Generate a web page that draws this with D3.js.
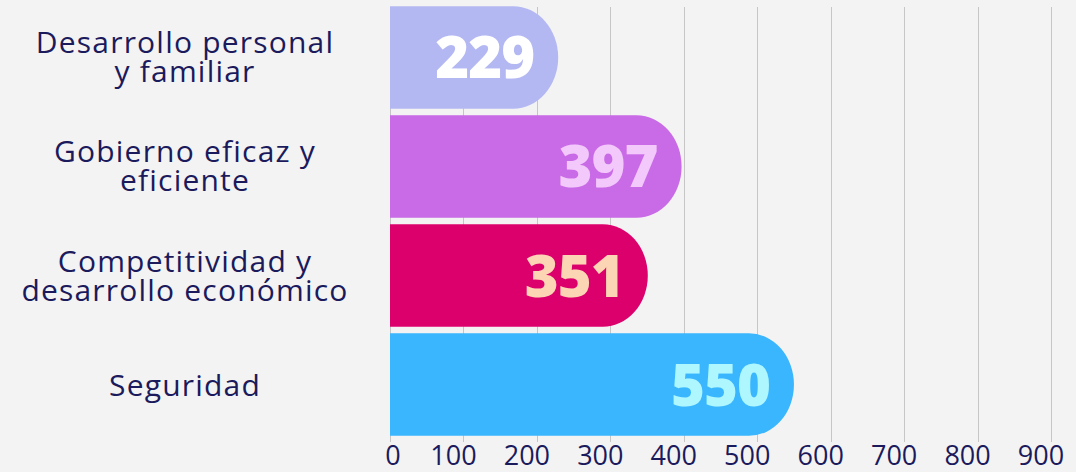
<!DOCTYPE html>
<html>
<head>
<meta charset="utf-8">
<script src="https://cdn.jsdelivr.net/npm/d3@7"></script>
<style>
  html, body { margin: 0; padding: 0; background: #f3f3f3; }
  svg { display: block; }
</style>
</head>
<body>
<svg width="1076" height="472"></svg>
<script>
// chart data
const categories = [
  ['Desarrollo personal', 'y familiar'],
  ['Gobierno eficaz y', 'eficiente'],
  ['Competitividad y', 'desarrollo económico'],
  ['Seguridad']
];
const values = [229, 397, 351, 550];
const barColors = ['#b3b8f2', '#c96ae7', '#dc006c', '#3ab6ff'];
const labelColors = ['#ffffff', '#f3c8fa', '#fcd6b4', '#aef7ff'];
const tickValues = [0, 100, 200, 300, 400, 500, 600, 700, 800, 900];

const svg = d3.select('svg'),
    width = +svg.attr('width'),
    height = +svg.attr('height');

const navy = '#1b1a5c';

const x = d3.scaleLinear()
    .domain([0, 900])
    .range([390, 1051]);

const y = d3.scaleBand()
    .domain(d3.range(values.length))
    .range([4, 438])
    .paddingInner(0.06)
    .paddingOuter(0.02);

// grid lines
svg.append('g')
    .attr('class', 'grid')
  .selectAll('line')
  .data(tickValues)
  .enter().append('line')
    .attr('x1', d => Math.round(x(d)) + 0.5)
    .attr('x2', d => Math.round(x(d)) + 0.5)
    .attr('y1', 7)
    .attr('y2', 442)
    .attr('stroke', '#c6c6c6')
    .attr('stroke-width', 1);

// bars: flat left, half-ellipse cap on the right
const rx = 45;
function barPath(i) {
  const x0 = x(0), x1 = x(values[i]), y0 = y(i), h = y.bandwidth();
  return `M${x0},${y0}H${x1 - rx}A${rx},${h / 2} 0 0 1 ${x1},${y0 + h / 2}A${rx},${h / 2} 0 0 1 ${x1 - rx},${y0 + h}H${x0}Z`;
}

svg.append('g')
    .attr('class', 'bars')
  .selectAll('path')
  .data(values)
  .enter().append('path')
    .attr('d', (d, i) => barPath(i))
    .attr('fill', (d, i) => barColors[i]);

// value labels inside bars
svg.append('g')
    .attr('class', 'values')
  .selectAll('text')
  .data(values)
  .enter().append('text')
    .attr('x', d => x(d) - 24)
    .attr('y', (d, i) => y(i) + y.bandwidth() / 2 + 21)
    .attr('text-anchor', 'end')
    .attr('font-family', 'Open Sans, sans-serif')
    .attr('font-weight', 800)
    .attr('font-size', 58)
    .attr('letter-spacing', -1)
    .attr('fill', (d, i) => labelColors[i])
    .text(d => d);

// category labels
const cat = svg.append('g')
    .attr('class', 'categories')
  .selectAll('text')
  .data(categories)
  .enter().append('text')
    .attr('text-anchor', 'middle')
    .attr('font-family', 'Open Sans, sans-serif')
    .attr('font-size', 30)
    .attr('letter-spacing', 1.2)
    .attr('fill', navy)
    .attr('transform', (d, i) => {
      const cy = y(i) + y.bandwidth() / 2;
      return `translate(185,${d.length > 1 ? cy - 4 : cy + 11})`;
    });

cat.selectAll('tspan')
  .data(d => d)
  .enter().append('tspan')
    .attr('x', 0)
    .attr('dy', (d, j) => j === 0 ? 0 : 29)
    .text(d => d);

// x axis tick labels
svg.append('g')
    .attr('class', 'x-axis')
  .selectAll('text')
  .data(tickValues)
  .enter().append('text')
    .attr('x', d => x(d) - (d === 0 ? -3 : 10))
    .attr('y', 465)
    .attr('text-anchor', 'middle')
    .attr('font-family', 'Open Sans, sans-serif')
    .attr('font-size', 27)
    .attr('fill', navy)
    .text(d => d);
</script>
</body>
</html>
